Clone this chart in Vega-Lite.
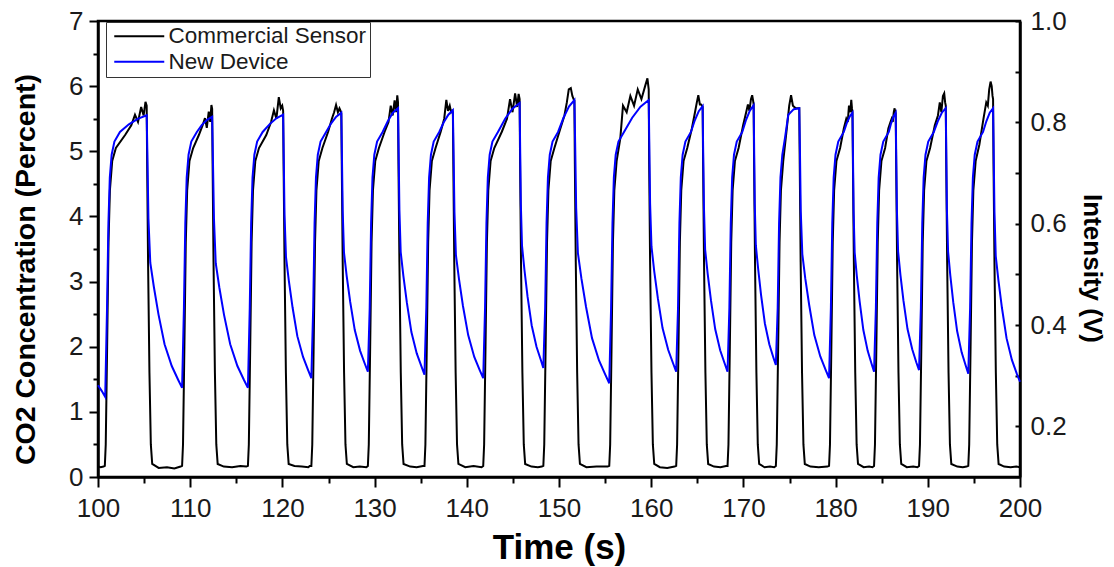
{
"$schema": "https://vega.github.io/schema/vega-lite/v6.json",
"width": 922,
"height": 456,
"autosize": {"type": "none"},
"padding": {"left": 98, "top": 21, "right": 94, "bottom": 90},
"background": "white",
"config": {
  "font": "Liberation Sans",
  "view": {"stroke": "black", "strokeWidth": 2.5},
  "axis": {"grid": false, "domainColor": "black", "domainWidth": 2.5, "tickColor": "black", "tickWidth": 2, "labelColor": "#1a1a1a", "labelFont": "Liberation Sans", "labelFontSize": 26, "titleFont": "Liberation Sans", "titleColor": "black", "titleFontWeight": "bold", "labelOverlap": false, "labelFlush": false}
},
"datasets": {
"co2": [
{"t":100.0,"c":0.16},{"t":100.3,"c":0.15},{"t":100.6,"c":0.16},
{"t":100.74,"c":0.17},{"t":100.84,"c":0.5},{"t":100.99,"c":2.0},{"t":101.14,"c":3.6},{"t":101.29,"c":4.4},{"t":101.54,"c":4.85},{"t":101.94,"c":5.05},{"t":102.94,"c":5.25},{"t":103.61,"c":5.4},{"t":104.01,"c":5.56},{"t":104.34,"c":5.45},{"t":104.68,"c":5.68},{"t":104.95,"c":5.55},{"t":105.15,"c":5.76},{"t":105.28,"c":5.7},{"t":105.33,"c":4.8},{"t":105.43,"c":3.3},{"t":105.58,"c":1.6},{"t":105.73,"c":0.5},{"t":105.88,"c":0.2},{"t":106.58,"c":0.14},{"t":107.48,"c":0.15},{"t":108.28,"c":0.13},{"t":108.96,"c":0.16},
{"t":109.12,"c":0.17},{"t":109.22,"c":0.5},{"t":109.37,"c":2.0},{"t":109.52,"c":3.6},{"t":109.67,"c":4.4},{"t":109.92,"c":4.85},{"t":110.32,"c":5.05},{"t":110.94,"c":5.25},{"t":111.35,"c":5.4},{"t":111.6,"c":5.51},{"t":111.8,"c":5.36},{"t":112.01,"c":5.61},{"t":112.17,"c":5.45},{"t":112.3,"c":5.71},{"t":112.38,"c":5.65},{"t":112.43,"c":4.8},{"t":112.53,"c":3.3},{"t":112.68,"c":1.6},{"t":112.83,"c":0.5},{"t":112.98,"c":0.2},{"t":113.64,"c":0.16},{"t":114.54,"c":0.15},{"t":115.44,"c":0.17},{"t":116.09,"c":0.16},
{"t":116.26,"c":0.17},{"t":116.36,"c":0.5},{"t":116.51,"c":2.0},{"t":116.66,"c":3.6},{"t":116.81,"c":4.4},{"t":117.06,"c":4.85},{"t":117.46,"c":5.05},{"t":118.25,"c":5.25},{"t":118.77,"c":5.45},{"t":119.08,"c":5.63},{"t":119.35,"c":5.5},{"t":119.61,"c":5.83},{"t":119.82,"c":5.66},{"t":119.98,"c":5.7},{"t":120.08,"c":5.62},{"t":120.13,"c":4.8},{"t":120.23,"c":3.3},{"t":120.38,"c":1.6},{"t":120.53,"c":0.5},{"t":120.68,"c":0.2},{"t":121.31,"c":0.17},{"t":122.11,"c":0.16},{"t":122.81,"c":0.15},{"t":122.96,"c":0.17},
{"t":123.14,"c":0.17},{"t":123.24,"c":0.5},{"t":123.39,"c":2.0},{"t":123.54,"c":3.6},{"t":123.69,"c":4.4},{"t":123.94,"c":4.85},{"t":124.34,"c":5.05},{"t":124.96,"c":5.3},{"t":125.37,"c":5.5},{"t":125.61,"c":5.6},{"t":125.82,"c":5.71},{"t":126.02,"c":5.6},{"t":126.19,"c":5.66},{"t":126.31,"c":5.62},{"t":126.39,"c":5.58},{"t":126.44,"c":4.8},{"t":126.54,"c":3.3},{"t":126.69,"c":1.6},{"t":126.84,"c":0.5},{"t":126.99,"c":0.2},{"t":127.69,"c":0.15},{"t":128.39,"c":0.16},{"t":129.1,"c":0.15},
{"t":129.27,"c":0.17},{"t":129.37,"c":0.5},{"t":129.52,"c":2.0},{"t":129.67,"c":3.6},{"t":129.82,"c":4.4},{"t":130.07,"c":4.85},{"t":130.47,"c":5.05},{"t":131.09,"c":5.3},{"t":131.51,"c":5.45},{"t":131.75,"c":5.7},{"t":131.96,"c":5.55},{"t":132.17,"c":5.78},{"t":132.33,"c":5.6},{"t":132.46,"c":5.86},{"t":132.54,"c":5.75},{"t":132.59,"c":4.8},{"t":132.69,"c":3.3},{"t":132.84,"c":1.6},{"t":132.99,"c":0.5},{"t":133.14,"c":0.2},{"t":133.86,"c":0.16},{"t":134.56,"c":0.15},{"t":135.24,"c":0.17},
{"t":135.41,"c":0.17},{"t":135.51,"c":0.5},{"t":135.66,"c":2.0},{"t":135.81,"c":3.6},{"t":135.96,"c":4.4},{"t":136.21,"c":4.85},{"t":136.61,"c":5.05},{"t":137.17,"c":5.3},{"t":137.55,"c":5.5},{"t":137.78,"c":5.79},{"t":137.96,"c":5.62},{"t":138.15,"c":5.7},{"t":138.3,"c":5.6},{"t":138.41,"c":5.62},{"t":138.49,"c":5.6},{"t":138.54,"c":4.8},{"t":138.64,"c":3.3},{"t":138.79,"c":1.6},{"t":138.94,"c":0.5},{"t":139.09,"c":0.2},{"t":139.83,"c":0.15},{"t":140.73,"c":0.17},{"t":141.6,"c":0.15},
{"t":141.78,"c":0.17},{"t":141.88,"c":0.5},{"t":142.03,"c":2.0},{"t":142.18,"c":3.6},{"t":142.33,"c":4.4},{"t":142.58,"c":4.85},{"t":142.98,"c":5.05},{"t":143.8,"c":5.3},{"t":144.36,"c":5.5},{"t":144.69,"c":5.8},{"t":144.96,"c":5.6},{"t":145.24,"c":5.89},{"t":145.46,"c":5.68},{"t":145.62,"c":5.88},{"t":145.73,"c":5.8},{"t":145.78,"c":4.8},{"t":145.88,"c":3.3},{"t":146.03,"c":1.6},{"t":146.18,"c":0.5},{"t":146.33,"c":0.2},{"t":147.01,"c":0.16},{"t":147.71,"c":0.15},{"t":148.14,"c":0.16},
{"t":148.3,"c":0.17},{"t":148.4,"c":0.5},{"t":148.55,"c":2.0},{"t":148.7,"c":3.6},{"t":148.85,"c":4.4},{"t":149.1,"c":4.85},{"t":149.5,"c":5.05},{"t":150.15,"c":5.35},{"t":150.59,"c":5.55},{"t":150.85,"c":5.75},{"t":151.06,"c":5.95},{"t":151.28,"c":5.97},{"t":151.45,"c":5.85},{"t":151.58,"c":5.8},{"t":151.67,"c":5.78},{"t":151.72,"c":4.8},{"t":151.82,"c":3.3},{"t":151.97,"c":1.6},{"t":152.12,"c":0.5},{"t":152.27,"c":0.2},{"t":152.97,"c":0.15},{"t":154.07,"c":0.16},{"t":155.28,"c":0.16},
{"t":155.45,"c":0.17},{"t":155.55,"c":0.5},{"t":155.7,"c":2.0},{"t":155.85,"c":3.6},{"t":156.0,"c":4.4},{"t":156.25,"c":4.85},{"t":156.65,"c":5.2},{"t":156.94,"c":5.7},{"t":157.34,"c":5.6},{"t":157.74,"c":5.85},{"t":158.14,"c":5.7},{"t":158.54,"c":5.95},{"t":158.94,"c":5.8},{"t":159.34,"c":6.0},{"t":159.59,"c":6.12},{"t":159.73,"c":5.95},{"t":159.78,"c":4.8},{"t":159.88,"c":3.3},{"t":160.03,"c":1.6},{"t":160.18,"c":0.5},{"t":160.33,"c":0.2},{"t":160.94,"c":0.15},{"t":161.74,"c":0.14},{"t":162.54,"c":0.16},
{"t":162.71,"c":0.17},{"t":162.81,"c":0.5},{"t":162.96,"c":2.0},{"t":163.11,"c":3.6},{"t":163.26,"c":4.4},{"t":163.51,"c":4.85},{"t":163.91,"c":5.05},{"t":164.41,"c":5.35},{"t":164.75,"c":5.6},{"t":164.95,"c":5.75},{"t":165.11,"c":5.86},{"t":165.28,"c":5.72},{"t":165.41,"c":5.72},{"t":165.51,"c":5.7},{"t":165.58,"c":5.68},{"t":165.63,"c":4.8},{"t":165.73,"c":3.3},{"t":165.88,"c":1.6},{"t":166.03,"c":0.5},{"t":166.18,"c":0.2},{"t":166.81,"c":0.16},{"t":167.51,"c":0.15},{"t":168.11,"c":0.17},
{"t":168.28,"c":0.17},{"t":168.38,"c":0.5},{"t":168.53,"c":2.0},{"t":168.68,"c":3.6},{"t":168.83,"c":4.4},{"t":169.08,"c":4.85},{"t":169.48,"c":5.05},{"t":169.97,"c":5.4},{"t":170.3,"c":5.6},{"t":170.49,"c":5.72},{"t":170.65,"c":5.62},{"t":170.82,"c":5.8},{"t":170.95,"c":5.86},{"t":171.05,"c":5.78},{"t":171.11,"c":5.72},{"t":171.16,"c":4.8},{"t":171.26,"c":3.3},{"t":171.41,"c":1.6},{"t":171.56,"c":0.5},{"t":171.71,"c":0.2},{"t":172.29,"c":0.15},{"t":172.89,"c":0.16},{"t":173.34,"c":0.15},
{"t":173.52,"c":0.17},{"t":173.62,"c":0.5},{"t":173.77,"c":2.0},{"t":173.92,"c":3.6},{"t":174.07,"c":4.4},{"t":174.32,"c":4.85},{"t":174.67,"c":5.3},{"t":174.97,"c":5.7},{"t":175.17,"c":5.86},{"t":175.37,"c":5.7},{"t":175.67,"c":5.66},{"t":176.06,"c":5.66},{"t":176.11,"c":4.8},{"t":176.21,"c":3.3},{"t":176.36,"c":1.6},{"t":176.51,"c":0.5},{"t":176.66,"c":0.2},{"t":177.27,"c":0.16},{"t":178.17,"c":0.15},{"t":179.12,"c":0.16},
{"t":179.29,"c":0.17},{"t":179.39,"c":0.5},{"t":179.54,"c":2.0},{"t":179.69,"c":3.6},{"t":179.84,"c":4.4},{"t":180.09,"c":4.85},{"t":180.49,"c":5.05},{"t":180.89,"c":5.35},{"t":181.16,"c":5.5},{"t":181.32,"c":5.45},{"t":181.45,"c":5.7},{"t":181.59,"c":5.6},{"t":181.7,"c":5.79},{"t":181.78,"c":5.65},{"t":181.83,"c":5.6},{"t":181.88,"c":4.8},{"t":181.98,"c":3.3},{"t":182.13,"c":1.6},{"t":182.28,"c":0.5},{"t":182.43,"c":0.2},{"t":183.04,"c":0.15},{"t":183.64,"c":0.16},{"t":183.99,"c":0.15},
{"t":184.17,"c":0.17},{"t":184.27,"c":0.5},{"t":184.42,"c":2.0},{"t":184.57,"c":3.6},{"t":184.72,"c":4.4},{"t":184.97,"c":4.85},{"t":185.37,"c":5.05},{"t":185.72,"c":5.35},{"t":185.95,"c":5.45},{"t":186.08,"c":5.5},{"t":186.2,"c":5.45},{"t":186.31,"c":5.6},{"t":186.4,"c":5.66},{"t":186.47,"c":5.6},{"t":186.52,"c":5.58},{"t":186.57,"c":4.8},{"t":186.67,"c":3.3},{"t":186.82,"c":1.6},{"t":186.97,"c":0.5},{"t":187.12,"c":0.2},{"t":187.72,"c":0.15},{"t":188.42,"c":0.16},{"t":188.87,"c":0.15},
{"t":189.05,"c":0.17},{"t":189.15,"c":0.5},{"t":189.3,"c":2.0},{"t":189.45,"c":3.6},{"t":189.6,"c":4.4},{"t":189.85,"c":4.85},{"t":190.25,"c":5.05},{"t":190.76,"c":5.4},{"t":191.1,"c":5.55},{"t":191.3,"c":5.75},{"t":191.47,"c":5.6},{"t":191.64,"c":5.85},{"t":191.78,"c":5.89},{"t":191.88,"c":5.75},{"t":191.95,"c":5.7},{"t":192.0,"c":4.8},{"t":192.1,"c":3.3},{"t":192.25,"c":1.6},{"t":192.4,"c":0.5},{"t":192.55,"c":0.2},{"t":193.2,"c":0.16},{"t":193.8,"c":0.15},{"t":194.21,"c":0.16},
{"t":194.39,"c":0.17},{"t":194.49,"c":0.5},{"t":194.64,"c":2.0},{"t":194.79,"c":3.6},{"t":194.94,"c":4.4},{"t":195.19,"c":4.85},{"t":195.59,"c":5.1},{"t":196.04,"c":5.5},{"t":196.34,"c":5.75},{"t":196.51,"c":5.7},{"t":196.66,"c":5.95},{"t":196.81,"c":6.07},{"t":196.93,"c":6.0},{"t":197.02,"c":5.85},{"t":197.08,"c":5.8},{"t":197.13,"c":4.8},{"t":197.23,"c":3.3},{"t":197.38,"c":1.6},{"t":197.53,"c":0.5},{"t":197.68,"c":0.2},{"t":198.28,"c":0.16},{"t":198.98,"c":0.15},{"t":199.6,"c":0.16},{"t":200.0,"c":0.15}
],
"dev": [
{"t":100.0,"v":0.281},{"t":100.4,"v":0.27},
{"t":100.78,"v":0.258},{"t":100.98,"v":0.434},{"t":101.13,"v":0.601},{"t":101.28,"v":0.691},{"t":101.48,"v":0.736},{"t":101.78,"v":0.762},{"t":102.38,"v":0.781},{"t":103.35,"v":0.796},{"t":104.31,"v":0.807},{"t":105.28,"v":0.814},{"t":105.36,"v":0.733},{"t":105.47,"v":0.61},{"t":105.67,"v":0.523},{"t":106.06,"v":0.475},{"t":106.56,"v":0.421},{"t":107.22,"v":0.362},{"t":108.0,"v":0.319},{"t":108.69,"v":0.292},
{"t":109.12,"v":0.276},{"t":109.32,"v":0.434},{"t":109.47,"v":0.601},{"t":109.62,"v":0.691},{"t":109.82,"v":0.736},{"t":110.12,"v":0.762},{"t":110.72,"v":0.781},{"t":111.27,"v":0.795},{"t":111.83,"v":0.805},{"t":112.38,"v":0.811},{"t":112.46,"v":0.731},{"t":112.58,"v":0.608},{"t":112.77,"v":0.522},{"t":113.16,"v":0.474},{"t":113.67,"v":0.42},{"t":114.34,"v":0.362},{"t":115.12,"v":0.319},{"t":115.82,"v":0.292},
{"t":116.26,"v":0.276},{"t":116.46,"v":0.434},{"t":116.61,"v":0.601},{"t":116.76,"v":0.691},{"t":116.96,"v":0.736},{"t":117.26,"v":0.762},{"t":117.86,"v":0.781},{"t":118.6,"v":0.796},{"t":119.34,"v":0.808},{"t":120.08,"v":0.815},{"t":120.14,"v":0.737},{"t":120.23,"v":0.617},{"t":120.39,"v":0.534},{"t":120.7,"v":0.487},{"t":121.1,"v":0.435},{"t":121.62,"v":0.378},{"t":122.24,"v":0.337},{"t":122.79,"v":0.311},
{"t":123.14,"v":0.295},{"t":123.34,"v":0.434},{"t":123.49,"v":0.601},{"t":123.64,"v":0.691},{"t":123.84,"v":0.736},{"t":124.14,"v":0.762},{"t":124.74,"v":0.781},{"t":125.29,"v":0.798},{"t":125.84,"v":0.811},{"t":126.39,"v":0.819},{"t":126.45,"v":0.742},{"t":126.54,"v":0.625},{"t":126.68,"v":0.543},{"t":126.97,"v":0.497},{"t":127.35,"v":0.446},{"t":127.85,"v":0.39},{"t":128.43,"v":0.349},{"t":128.95,"v":0.323},
{"t":129.27,"v":0.308},{"t":129.47,"v":0.434},{"t":129.62,"v":0.601},{"t":129.77,"v":0.691},{"t":129.97,"v":0.736},{"t":130.27,"v":0.762},{"t":130.87,"v":0.781},{"t":131.43,"v":0.802},{"t":131.98,"v":0.819},{"t":132.54,"v":0.828},{"t":132.6,"v":0.749},{"t":132.69,"v":0.628},{"t":132.83,"v":0.544},{"t":133.12,"v":0.497},{"t":133.5,"v":0.444},{"t":133.99,"v":0.386},{"t":134.57,"v":0.344},{"t":135.09,"v":0.318},
{"t":135.41,"v":0.302},{"t":135.61,"v":0.434},{"t":135.76,"v":0.601},{"t":135.91,"v":0.691},{"t":136.11,"v":0.736},{"t":136.41,"v":0.762},{"t":137.01,"v":0.781},{"t":137.5,"v":0.8},{"t":138.0,"v":0.815},{"t":138.49,"v":0.824},{"t":138.56,"v":0.745},{"t":138.66,"v":0.623},{"t":138.82,"v":0.538},{"t":139.15,"v":0.491},{"t":139.58,"v":0.438},{"t":140.15,"v":0.38},{"t":140.81,"v":0.337},{"t":141.4,"v":0.311},
{"t":141.78,"v":0.295},{"t":141.98,"v":0.434},{"t":142.13,"v":0.601},{"t":142.28,"v":0.691},{"t":142.48,"v":0.736},{"t":142.78,"v":0.762},{"t":143.38,"v":0.781},{"t":144.16,"v":0.807},{"t":144.95,"v":0.827},{"t":145.73,"v":0.838},{"t":145.78,"v":0.76},{"t":145.86,"v":0.639},{"t":145.99,"v":0.556},{"t":146.25,"v":0.509},{"t":146.59,"v":0.456},{"t":147.04,"v":0.399},{"t":147.56,"v":0.357},{"t":148.03,"v":0.331},
{"t":148.3,"v":0.315},{"t":148.5,"v":0.434},{"t":148.65,"v":0.601},{"t":148.8,"v":0.691},{"t":149.0,"v":0.736},{"t":149.3,"v":0.762},{"t":149.9,"v":0.781},{"t":150.49,"v":0.809},{"t":151.08,"v":0.831},{"t":151.67,"v":0.844},{"t":151.75,"v":0.76},{"t":151.86,"v":0.632},{"t":152.05,"v":0.542},{"t":152.43,"v":0.492},{"t":152.93,"v":0.436},{"t":153.58,"v":0.374},{"t":154.34,"v":0.33},{"t":155.02,"v":0.302},
{"t":155.45,"v":0.285},{"t":155.65,"v":0.434},{"t":155.8,"v":0.601},{"t":155.95,"v":0.691},{"t":156.15,"v":0.736},{"t":156.45,"v":0.762},{"t":157.05,"v":0.781},{"t":157.94,"v":0.809},{"t":158.84,"v":0.831},{"t":159.73,"v":0.844},{"t":159.79,"v":0.764},{"t":159.88,"v":0.64},{"t":160.03,"v":0.555},{"t":160.33,"v":0.506},{"t":160.72,"v":0.453},{"t":161.23,"v":0.394},{"t":161.84,"v":0.351},{"t":162.38,"v":0.324},
{"t":162.71,"v":0.308},{"t":162.91,"v":0.434},{"t":163.06,"v":0.601},{"t":163.21,"v":0.691},{"t":163.41,"v":0.736},{"t":163.71,"v":0.762},{"t":164.31,"v":0.781},{"t":164.73,"v":0.804},{"t":165.16,"v":0.822},{"t":165.58,"v":0.832},{"t":165.63,"v":0.753},{"t":165.72,"v":0.633},{"t":165.85,"v":0.549},{"t":166.12,"v":0.502},{"t":166.48,"v":0.449},{"t":166.94,"v":0.392},{"t":167.48,"v":0.35},{"t":167.97,"v":0.324},
{"t":168.28,"v":0.308},{"t":168.48,"v":0.434},{"t":168.63,"v":0.601},{"t":168.78,"v":0.691},{"t":168.98,"v":0.736},{"t":169.28,"v":0.762},{"t":169.88,"v":0.781},{"t":170.29,"v":0.805},{"t":170.7,"v":0.823},{"t":171.11,"v":0.834},{"t":171.16,"v":0.757},{"t":171.23,"v":0.639},{"t":171.35,"v":0.557},{"t":171.6,"v":0.511},{"t":171.91,"v":0.46},{"t":172.33,"v":0.403},{"t":172.81,"v":0.362},{"t":173.25,"v":0.336},
{"t":173.52,"v":0.321},{"t":173.72,"v":0.434},{"t":173.87,"v":0.601},{"t":174.02,"v":0.691},{"t":174.22,"v":0.736},{"t":174.52,"v":0.77},{"t":174.87,"v":0.815},{"t":175.47,"v":0.826},{"t":176.06,"v":0.828},{"t":176.13,"v":0.748},{"t":176.22,"v":0.625},{"t":176.39,"v":0.54},{"t":176.71,"v":0.492},{"t":177.14,"v":0.439},{"t":177.69,"v":0.38},{"t":178.34,"v":0.338},{"t":178.93,"v":0.311},
{"t":179.29,"v":0.295},{"t":179.49,"v":0.434},{"t":179.64,"v":0.601},{"t":179.79,"v":0.691},{"t":179.99,"v":0.736},{"t":180.29,"v":0.762},{"t":180.89,"v":0.781},{"t":181.2,"v":0.798},{"t":181.52,"v":0.811},{"t":181.83,"v":0.819},{"t":181.88,"v":0.742},{"t":181.95,"v":0.625},{"t":182.07,"v":0.543},{"t":182.3,"v":0.497},{"t":182.61,"v":0.446},{"t":183.01,"v":0.39},{"t":183.48,"v":0.349},{"t":183.91,"v":0.323},
{"t":184.17,"v":0.308},{"t":184.37,"v":0.434},{"t":184.52,"v":0.601},{"t":184.67,"v":0.691},{"t":184.87,"v":0.736},{"t":185.17,"v":0.762},{"t":185.77,"v":0.781},{"t":186.02,"v":0.798},{"t":186.27,"v":0.811},{"t":186.52,"v":0.819},{"t":186.57,"v":0.743},{"t":186.65,"v":0.626},{"t":186.78,"v":0.545},{"t":187.03,"v":0.499},{"t":187.36,"v":0.448},{"t":187.8,"v":0.392},{"t":188.31,"v":0.352},{"t":188.76,"v":0.326},
{"t":189.05,"v":0.311},{"t":189.25,"v":0.434},{"t":189.4,"v":0.601},{"t":189.55,"v":0.691},{"t":189.75,"v":0.736},{"t":190.05,"v":0.762},{"t":190.65,"v":0.781},{"t":191.08,"v":0.802},{"t":191.52,"v":0.819},{"t":191.95,"v":0.828},{"t":192.0,"v":0.749},{"t":192.07,"v":0.629},{"t":192.2,"v":0.545},{"t":192.44,"v":0.498},{"t":192.76,"v":0.445},{"t":193.18,"v":0.388},{"t":193.67,"v":0.346},{"t":194.11,"v":0.32},
{"t":194.39,"v":0.304},{"t":194.59,"v":0.434},{"t":194.74,"v":0.601},{"t":194.89,"v":0.691},{"t":195.09,"v":0.736},{"t":195.39,"v":0.762},{"t":195.99,"v":0.781},{"t":196.35,"v":0.802},{"t":196.72,"v":0.819},{"t":197.08,"v":0.828},{"t":197.14,"v":0.747},{"t":197.23,"v":0.623},{"t":197.37,"v":0.536},{"t":197.66,"v":0.488},{"t":198.04,"v":0.434},{"t":198.54,"v":0.374},{"t":199.12,"v":0.331},{"t":199.65,"v":0.304},{"t":200.0,"v":0.288}
]
},
"layer": [
{
  "data": {"name": "co2"},
  "mark": {"type": "line", "strokeWidth": 2},
  "encoding": {
    "x": {"field": "t", "type": "quantitative", "scale": {"domain": [100, 200], "nice": false, "zero": false},
      "axis": {"title": "Time (s)", "values": [100,105,110,115,120,125,130,135,140,145,150,155,160,165,170,175,180,185,190,195,200],
        "labelExpr": "datum.value % 10 === 0 ? format(datum.value, 'd') : ''",
        "tickSize": 10,
        "tickDash": {"condition": {"test": "datum.value % 10 !== 0", "value": [6, 100]}, "value": [100, 0]},
        "labelPadding": 8, "titleFontSize": 35, "titlePadding": 9}},
    "y": {"field": "c", "type": "quantitative", "scale": {"domain": [0, 7], "nice": false, "zero": false},
      "axis": {"title": "CO2 Concentration (Percent)", "values": [0,0.5,1,1.5,2,2.5,3,3.5,4,4.5,5,5.5,6,6.5,7],
        "labelExpr": "datum.value % 1 === 0 ? format(datum.value, 'd') : ''",
        "tickSize": 9,
        "tickDash": {"condition": {"test": "datum.value % 1 !== 0", "value": [5, 100]}, "value": [100, 0]},
        "labelPadding": 6, "titleFontSize": 28.5, "titlePadding": 28, "titleY": 248}},
    "color": {"datum": "Commercial Sensor", "type": "nominal",
      "scale": {"domain": ["Commercial Sensor", "New Device"], "range": ["#000000", "#0000ff"]},
      "legend": {"title": null, "orient": "none", "legendX": 8, "legendY": 1, "symbolType": "M-1.2,0H8.8", "symbolSize": 100, "symbolStrokeWidth": 2, "labelFontSize": 22.5, "labelFont": "Liberation Sans", "labelColor": "#1a1a1a", "labelOffset": 37, "labelLimit": 400, "padding": 3, "rowPadding": 2.5, "strokeColor": "#333333", "fillColor": "white"}}
  }
},
{
  "data": {"name": "dev"},
  "mark": {"type": "line", "strokeWidth": 2},
  "encoding": {
    "x": {"field": "t", "type": "quantitative"},
    "y": {"field": "v", "type": "quantitative", "scale": {"domain": [0.1, 1.0], "nice": false, "zero": false},
      "axis": {"orient": "right", "title": "Intensity (V)", "titleAngle": 90, "values": [0.2,0.3,0.4,0.5,0.6,0.7,0.8,0.9,1.0],
        "labelExpr": "round(datum.value * 10) % 2 === 0 ? format(datum.value, '.1f') : ''",
        "tickSize": -5, "labelPadding": 15, "titleFontSize": 26, "titlePadding": 12, "titleY": 247}},
    "color": {"datum": "New Device", "type": "nominal"}
  }
}
],
"resolve": {"scale": {"y": "independent"}}
}
